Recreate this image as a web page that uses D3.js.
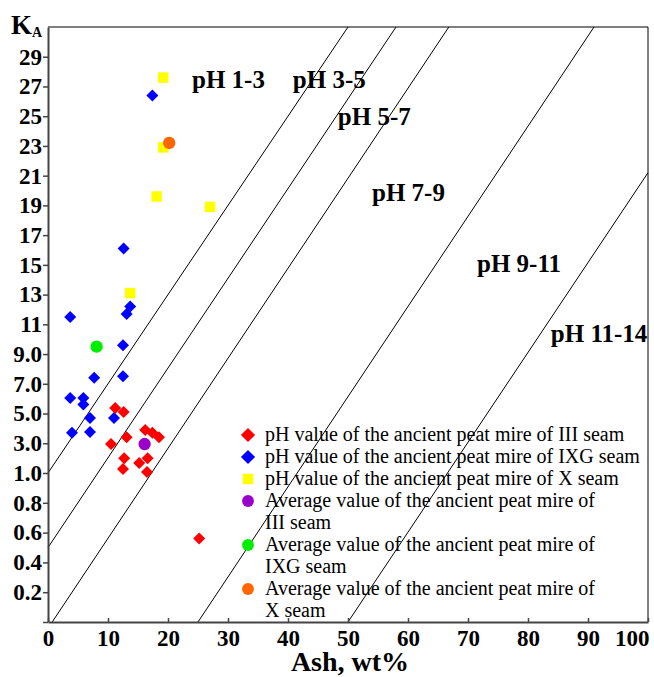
<!DOCTYPE html>
<html>
<head>
<meta charset="utf-8">
<script src="https://cdn.jsdelivr.net/npm/d3@7"></script>
<style>
  body { margin: 0; background: #fff; }
  svg { display: block; }
  text { font-family: "Liberation Serif", "Times New Roman", serif; }
</style>
</head>
<body>
<div id="chart"></div>
<script>
// data: [ash wt%, K_A]
const seamIII = [
    [11.2, 5.37], [12.6, 5.1], [16.2, 3.9], [17.4, 3.7], [18.5, 3.4],
    [13.1, 3.4], [10.5, 2.95], [12.7, 2.0], [15.2, 1.67], [16.6, 2.0],
    [12.5, 1.27], [16.5, 1.07], [25.2, 0.56]
];
const seamIXG = [
    [17.4, 26.4], [12.6, 16.1], [13.7, 12.2], [13.1, 11.7], [3.7, 11.5],
    [12.5, 9.6], [7.7, 7.4], [12.5, 7.5], [3.7, 6.05], [5.9, 6.05],
    [5.9, 5.6], [7.0, 4.7], [11.0, 4.7], [4.0, 3.7], [7.0, 3.75]
];
const seamX = [
    [19.2, 27.6], [19.2, 22.9], [18.1, 19.6], [27.0, 18.9], [13.7, 13.1]
];
const avgIII = [[16.1, 2.95]];
const avgIXG = [[8.1, 9.5]];
const avgX = [[20.2, 23.2]];

// pH boundary lines, two ends each
const phLines = [
    [[0, 1.0], [50, 31]],
    [[0, 0.5], [58, 31]],
    [[0.7, 0], [66.8, 31]],
    [[25, 0], [91, 31]],
    [[50, 0], [100, 21.2]]
];
const phLabels = [
    { text: 'pH 1-3', x: 24, y: 26.9 },
    { text: 'pH 3-5', x: 40.8, y: 26.9 },
    { text: 'pH 5-7', x: 48.3, y: 24.4 },
    { text: 'pH 7-9', x: 54, y: 19.3 },
    { text: 'pH 9-11', x: 71.5, y: 14.5 },
    { text: 'pH 11-14', x: 83.8, y: 9.8 }
];

const xTicks = [0, 10, 20, 30, 40, 50, 60, 70, 80, 90, 100];
const yTicks = [0, 0.2, 0.4, 0.6, 0.8, 1, 3, 5, 7, 9, 11, 13, 15, 17, 19, 21, 23, 25, 27, 29];

const legendItems = [
    { lines: ['pH value of the ancient peat mire of III seam'], shape: 'diamond', color: '#ff0000' },
    { lines: ['pH value of the ancient peat mire of IXG seam'], shape: 'diamond', color: '#0000ff' },
    { lines: ['pH value of the ancient peat mire of X seam'], shape: 'square', color: '#ffff00' },
    { lines: ['Average value of the ancient peat mire of', 'III seam'], shape: 'circle', color: '#9900cc' },
    { lines: ['Average value of the ancient peat mire of', 'IXG seam'], shape: 'circle', color: '#00ee00' },
    { lines: ['Average value of the ancient peat mire of', 'X seam'], shape: 'circle', color: '#ff6600' }
];

function main() {
    const width = 654, height = 677;
    const left = 48, right = 648, top = 27, bottom = 622;

    const svg = d3.select('#chart')
        .append('svg')
        .attr('width', width)
        .attr('height', height);

    const x = d3.scaleLinear().domain([0, 100]).range([left, right]);
    // broken scale: 0-1 stretched, 1-31 compressed
    const y = d3.scaleLinear().domain([0, 1, 31]).range([bottom, 473, top]);

    // frame top and right
    svg.append('path')
        .attr('d', `M${left},${top}H${right}V${bottom}`)
        .attr('fill', 'none')
        .attr('stroke', '#000')
        .attr('stroke-width', 1);

    // pH lines
    svg.selectAll('.phline')
        .data(phLines)
        .enter()
        .append('line')
        .attr('x1', d => x(d[0][0]))
        .attr('y1', d => y(d[0][1]))
        .attr('x2', d => x(d[1][0]))
        .attr('y2', d => y(d[1][1]))
        .attr('stroke', '#000')
        .attr('stroke-width', 1);

    svg.selectAll('.phlabel')
        .data(phLabels)
        .enter()
        .append('text')
        .text(d => d.text)
        .attr('x', d => x(d.x))
        .attr('y', d => y(d.y))
        .attr('font-size', 25)
        .attr('font-weight', 'bold');

    // axes
    const xAxis = svg.append('g')
        .attr('transform', `translate(0,${bottom})`)
        .call(d3.axisBottom(x).tickValues(xTicks).tickSize(-4).tickSizeOuter(0));
    const yAxis = svg.append('g')
        .attr('transform', `translate(${left},0)`)
        .call(d3.axisLeft(y).tickValues(yTicks).tickSize(5).tickSizeOuter(0)
            .tickFormat(d => d === 0 ? '' : (d < 10 ? d.toFixed(1) : d)));

    [xAxis, yAxis].forEach(g => {
        g.select('.domain').attr('stroke', '#444').attr('stroke-width', 2);
        g.selectAll('.tick line').attr('stroke', '#444').attr('stroke-width', 1.5);
        g.selectAll('text')
            .attr('font-size', 23)
            .attr('font-weight', 'bold')
            .attr('fill', '#000');
    });
    xAxis.selectAll('text').attr('y', 6).attr('dy', '0.78em');
    xAxis.selectAll('.tick').filter(d => d === 100).select('text')
        .attr('text-anchor', 'end').attr('x', 1);
    yAxis.selectAll('text').attr('x', -6);

    // axis titles
    svg.append('text')
        .attr('x', 350)
        .attr('y', 671)
        .attr('text-anchor', 'middle')
        .attr('font-size', 28)
        .attr('font-weight', 'bold')
        .text('Ash, wt%');

    const ka = svg.append('text')
        .attr('x', 11)
        .attr('y', 34)
        .attr('font-size', 27)
        .attr('font-weight', 'bold');
    ka.append('tspan').text('K');
    ka.append('tspan').attr('font-size', 14).attr('dy', 3).text('A');

    // marks
    const diamond = d3.symbol().type(d3.symbolSquare).size(72);
    const square = d3.symbol().type(d3.symbolSquare).size(110);
    const circle = d3.symbol().type(d3.symbolCircle).size(120);

    function drawPoints(data, sym, color, rotate) {
        svg.append('g')
            .selectAll('path')
            .data(data)
            .enter()
            .append('path')
            .attr('d', sym)
            .attr('fill', color)
            .attr('transform', d => `translate(${x(d[0])},${y(d[1])})${rotate ? ' rotate(45)' : ''}`);
    }
    drawPoints(seamX, square, '#ffff00', false);
    drawPoints(seamIXG, diamond, '#0000ff', true);
    drawPoints(seamIII, diamond, '#ff0000', true);
    drawPoints(avgIII, circle, '#9900cc', false);
    drawPoints(avgIXG, circle, '#00ee00', false);
    drawPoints(avgX, circle, '#ff6600', false);

    // legend
    const legend = svg.append('g');
    let row = 0;
    const lx = 248, ly = 435, lh = 22;
    legendItems.forEach(item => {
        const cy = ly + row * lh;
        let sym, rot = '';
        if (item.shape === 'diamond') { sym = d3.symbol().type(d3.symbolSquare).size(100); rot = ' rotate(45)'; }
        else if (item.shape === 'square') sym = d3.symbol().type(d3.symbolSquare).size(110);
        else sym = d3.symbol().type(d3.symbolCircle).size(110);
        legend.append('path')
            .attr('d', sym)
            .attr('fill', item.color)
            .attr('transform', `translate(${lx},${cy})${rot}`);
        item.lines.forEach((t, i) => {
            legend.append('text')
                .attr('x', 265)
                .attr('y', cy + i * lh + 6)
                .attr('font-size', 20)
                .text(t);
        });
        row += item.lines.length;
    });
}

main();
</script>
</body>
</html>
